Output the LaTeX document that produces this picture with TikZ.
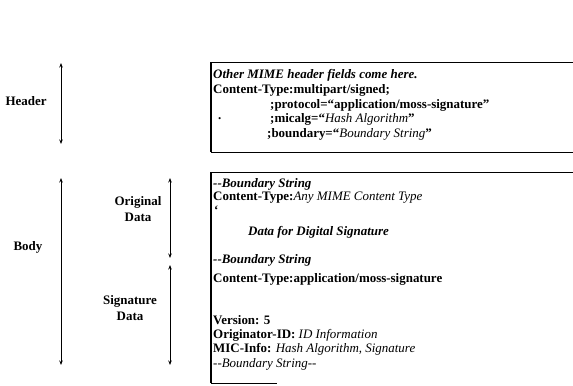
\documentclass[tikz,border=0pt]{standalone}
\usepackage{fontspec}
\setmainfont{Liberation Serif}
\usetikzlibrary{arrows.meta}
\tikzset{
  dim/.style={line width=0.9bp,{Stealth[length=4.5bp,width=3.5bp]}-{Stealth[length=4.5bp,width=3.5bp]}},
  frame/.style={line width=1bp},
  edge/.style={line width=1.6bp},
  lbl/.style={font=\fontsize{13}{16}\selectfont\bfseries,align=center,inner sep=0pt},
  txt/.style={font=\fontsize{13}{14}\selectfont,anchor=base west,inner sep=0pt}
}
\begin{document}
\begin{tikzpicture}[x=1bp,y=-1bp]
\useasboundingbox (0,0) rectangle (573,385);
% dimension arrows
\coordinate (h1) at (61,63); \coordinate (h2) at (61,144);
\coordinate (b1) at (61,178); \coordinate (b2) at (61,365);
\coordinate (o1) at (170,178); \coordinate (o2) at (170,258);
\coordinate (s1) at (170,265); \coordinate (s2) at (170,365);
\draw[dim] (h1) -- (h2);
\draw[dim] (b1) -- (b2);
\draw[dim] (o1) -- (o2);
\draw[dim] (s1) -- (s2);
\node[lbl] (lh) at (26,101) {Header};
\node[lbl] (lb) at (28,247) {Body};
\node[lbl] (lo) at (138,209) {Original\\Data};
\node[lbl] (ls) at (130,308) {Signature\\Data};
% header box
\coordinate (ha) at (211,62); \coordinate (hb) at (573,62);
\coordinate (hc) at (211,152); \coordinate (hd) at (573,152);
\draw[frame] (hb) -- (ha);
\draw[edge] (ha) -- (hc);
\draw[frame] (hc) -- (hd);
\node[txt] (t1) at (213,78.5) {\bfseries\itshape Other MIME header fields come here.};
\node[txt] (t2) at (213,93.5) {\bfseries Content-Type:multipart/signed;};
\node[txt] (t3) at (270,108.5) {\bfseries ;protocol=“application/moss-signature”};
\node[txt] (t4d) at (218,119) {\bfseries .};
\node[txt] (t4) at (270,122.5) {\bfseries ;micalg=“\textmd{\itshape Hash Algorithm}”};
\node[txt] (t5) at (267,137.5) {\bfseries ;boundary=“\textmd{\itshape Boundary String}”};
% body box
\coordinate (ba) at (211,172); \coordinate (bb) at (573,172);
\coordinate (bc) at (211,383); \coordinate (bd) at (277,383);
\draw[frame] (bb) -- (ba);
\draw[edge] (ba) -- (bc);
\draw[frame] (bc) -- (bd);
\node[txt] (u1) at (213,187.5) {\bfseries\itshape {-}{-}Boundary String};
\node[txt] (u2) at (213,200.5) {\bfseries Content-Type:\textmd{\itshape Any MIME Content Type}};
\node[txt] (u2d) at (214,214) {\bfseries `};
\node[txt] (u3) at (248,235.5) {\bfseries\itshape Data for Digital Signature};
\node[txt] (u4) at (213,263.5) {\bfseries\itshape {-}{-}Boundary String};
\node[txt] (u5) at (213,282) {\bfseries Content-Type:application/moss-signature};
\node[txt] (u6) at (213,324) {\bfseries Version: 5};
\node[txt] (u7) at (213,338.5) {\bfseries Originator-ID: \textmd{\itshape ID Information}};
\node[txt] (u8) at (213,352.5) {\bfseries MIC-Info: \textmd{\itshape Hash Algorithm, Signature}};
\node[txt] (u9) at (213,367.5) {\itshape {-}{-}Boundary String{-}{-}};
\end{tikzpicture}
\end{document}
